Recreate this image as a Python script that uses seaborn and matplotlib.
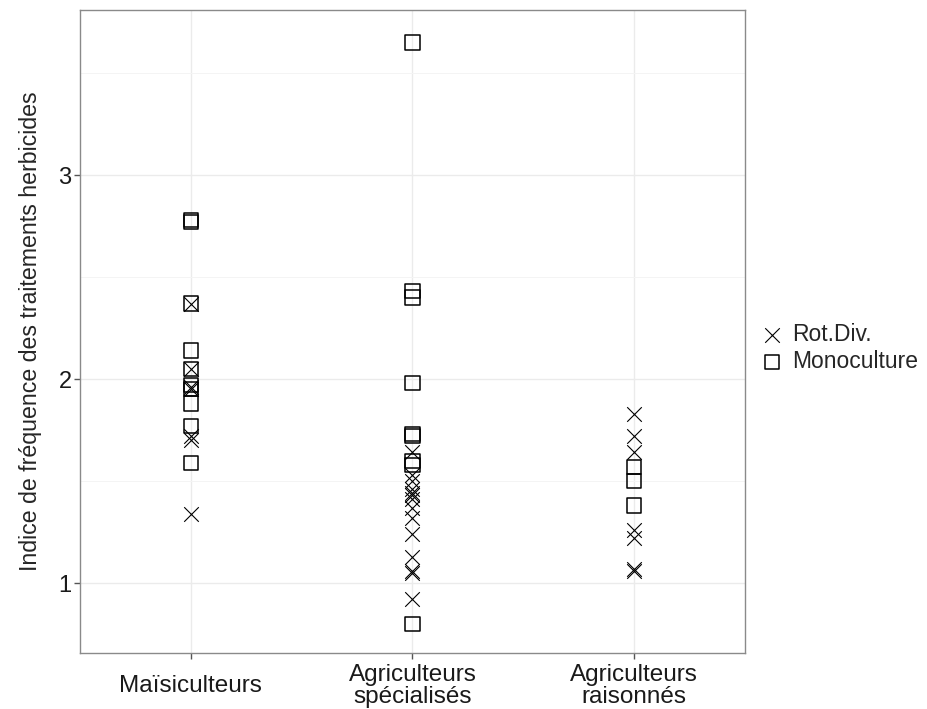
import numpy as np
import pandas as pd

import matplotlib
matplotlib.use('Agg')
import matplotlib.pyplot as plt
from matplotlib.patches import Rectangle

import seaborn as sns

groupes = ['Maïsiculteurs', 'Agriculteurs\nspécialisés', 'Agriculteurs\nraisonnés']

# Indice de fréquence des traitements herbicides
mais_rot = [2.37, 2.05, 1.96, 1.95, 1.72, 1.70, 1.34]
mais_mono = [2.78, 2.77, 2.37, 2.14, 2.05, 1.97, 1.95, 1.88, 1.77, 1.59]
spec_rot = [1.64, 1.53, 1.50, 1.46, 1.44, 1.43, 1.41, 1.37, 1.32, 1.24, 1.13, 1.06, 1.05, 0.92]
spec_mono = [3.65, 2.43, 2.40, 1.98, 1.73, 1.72, 1.60, 1.58, 0.80]
rais_rot = [1.83, 1.72, 1.64, 1.26, 1.22, 1.07, 1.06]
rais_mono = [1.57, 1.50, 1.38]

rows = []
for g, rot, mono in zip(groupes, [mais_rot, spec_rot, rais_rot], [mais_mono, spec_mono, rais_mono]):
    rows += [(g, 'Rot.Div.', v) for v in rot]
    rows += [(g, 'Monoculture', v) for v in mono]
ift = pd.DataFrame(rows, columns=['groupe', 'rotation', 'ift'])
ift['groupe'] = pd.Categorical(ift['groupe'], categories=groupes, ordered=True)

sns.set_theme(style='white')
plt.rcParams['font.family'] = ['Liberation Sans', 'DejaVu Sans']

fig = plt.figure(figsize=(9.28, 7.09), dpi=100)
ax = fig.add_axes([80/928, 1 - 653/709, 665/928, 643/709])

sns.scatterplot(data=ift[ift.rotation == 'Rot.Div.'], x='groupe', y='ift', marker='x',
                color='black', edgecolor='black', s=110, linewidth=0.8, label='Rot.Div.', ax=ax)
sns.scatterplot(data=ift[ift.rotation == 'Monoculture'], x='groupe', y='ift', marker='s',
                facecolor='none', edgecolor='black', s=105, linewidth=1.1, label='Monoculture', ax=ax)

ax.set_xlim(-0.5, 2.5)
ax.set_ylim(0.657, 3.809)
ax.set_yticks([1, 2, 3])
ax.set_yticks([1.5, 2.5, 3.5], minor=True)
ax.set_xticks(range(3))
ax.set_xticklabels(groupes)
ax.grid(True, which='major', color='#ebebeb', linewidth=1.0)
ax.grid(True, which='minor', axis='y', color='#f4f4f4', linewidth=0.7)
ax.set_axisbelow(True)
for sp in ax.spines.values():
    sp.set_color('#8a8a8a')
    sp.set_linewidth(1.0)
ax.tick_params(axis='both', which='major', length=4, width=1, color='#555555',
               labelsize=17, labelcolor='#1a1a1a', pad=2, bottom=True, left=True)
ax.tick_params(axis='x', which='major', labelsize=17.5, pad=20)
ax.tick_params(axis='both', which='minor', length=0)
for lbl in ax.get_xticklabels():
    lbl.set_verticalalignment('center')
    lbl.set_linespacing(1.0)
ax.set_xlabel('')
ax.set_ylabel('Indice de fréquence des traitements herbicides', fontsize=16.7, labelpad=12)

leg = ax.legend(loc='center left', bbox_to_anchor=(758/928, 1 - 348/709),
                bbox_transform=fig.transFigure, frameon=False, fontsize=16.5,
                handlelength=1.2, handletextpad=0.3, labelspacing=0.2, borderpad=0, borderaxespad=0)

# cadres gris autour des symboles de la légende, comme ggplot
fig.canvas.draw()
renderer = fig.canvas.get_renderer()
inv = fig.transFigure.inverted()
for h in leg.legend_handles:
    bb = h.get_window_extent(renderer)
    cx, cy = (bb.x0 + bb.x1) / 2, (bb.y0 + bb.y1) / 2
    (x0, y0), (x1, y1) = inv.transform([(cx - 15, cy - 14), (cx + 15, cy + 14)])
    fig.patches.append(Rectangle((x0, y0), x1 - x0, y1 - y0, transform=fig.transFigure,
                                 facecolor='none', edgecolor='#dddddd', linewidth=0.8, zorder=0))

plt.savefig('out.png', dpi=100)
plt.close()
